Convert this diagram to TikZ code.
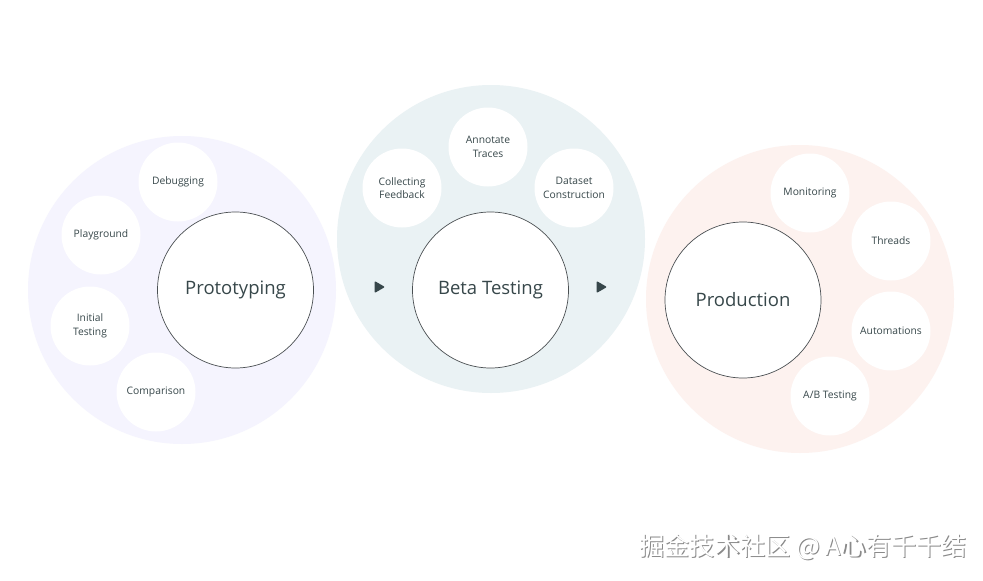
\documentclass[tikz,border=0pt]{standalone}
\usepackage{fontspec}
\usetikzlibrary{shapes.geometric}
\setmainfont{Open Sans}
\newfontfamily\cjk{Noto Sans CJK SC}
\definecolor{lavbg}{HTML}{F5F4FE}
\definecolor{tealbg}{HTML}{EAF2F4}
\definecolor{peachbg}{HTML}{FDF2EF}
\definecolor{ink}{HTML}{37474A}
\definecolor{rim}{HTML}{4A4F52}
\definecolor{shadowgray}{HTML}{8A8A8A}
\begin{document}
\begin{tikzpicture}[x=1pt,y=-1pt,
  stage/.style={circle, minimum size=308pt, inner sep=0pt},
  core/.style={circle, draw=rim, line width=0.7pt, fill=white, minimum size=156pt, inner sep=0pt, text=ink, font=\fontsize{18.5}{22}\selectfont},
  sub/.style={circle, fill=white, minimum size=79pt, inner sep=0pt, text=ink, align=center, font=\fontsize{10.3}{13.5}\selectfont},
  tri/.style={regular polygon, regular polygon sides=3, shape border rotate=-90, fill=ink, draw=ink, line join=round, line width=1.5pt, inner sep=0pt, minimum size=11pt}
]
\useasboundingbox (0,0) rectangle (983,581);
\fill[white] (0,0) rectangle (983,581);
% stage backgrounds
\node[stage, fill=lavbg] (s1) at (182,290) {};
\node[stage, fill=tealbg] (s2) at (491,239) {};
\node[stage, fill=peachbg] (s3) at (800,299) {};
% prototyping
\node[core] (proto) at (235.5,290) {Prototyping};
\node[sub] (debug) at (178,182) {Debugging};
\node[sub] (play) at (101,235) {Playground};
\node[sub] (init) at (90,326) {Initial\\Testing};
\node[sub] (comp) at (156,392) {Comparison};
% beta testing
\node[core] (beta) at (490.5,290) {Beta Testing};
\node[sub] (annot) at (488,147) {Annotate\\Traces};
\node[sub] (collect) at (402,188) {Collecting\\Feedback};
\node[sub] (dataset) at (574,188) {Dataset\\Construction};
% production
\node[core] (prod) at (743,300) {Production};
\node[sub] (monit) at (810,193) {Monitoring};
\node[sub] (threads) at (891,241) {Threads};
\node[sub] (autom) at (891,331) {Automations};
\node[sub] (ab) at (830,396) {A/B Testing};
% arrows
\node[tri] (a1) at (378,287) {};
\node[tri] (a2) at (600,287) {};
% watermark
\node[anchor=west, inner sep=0pt, text=shadowgray, font=\cjk\fontsize{25.2}{28}\selectfont] (wm0) at (640.3,548.3) {掘金技术社区 @ A心有千千结};
\node[anchor=west, inner sep=0pt, text=white, font=\cjk\fontsize{25.2}{28}\selectfont] (wm) at (639,547) {掘金技术社区 @ A心有千千结};
\end{tikzpicture}
\end{document}
